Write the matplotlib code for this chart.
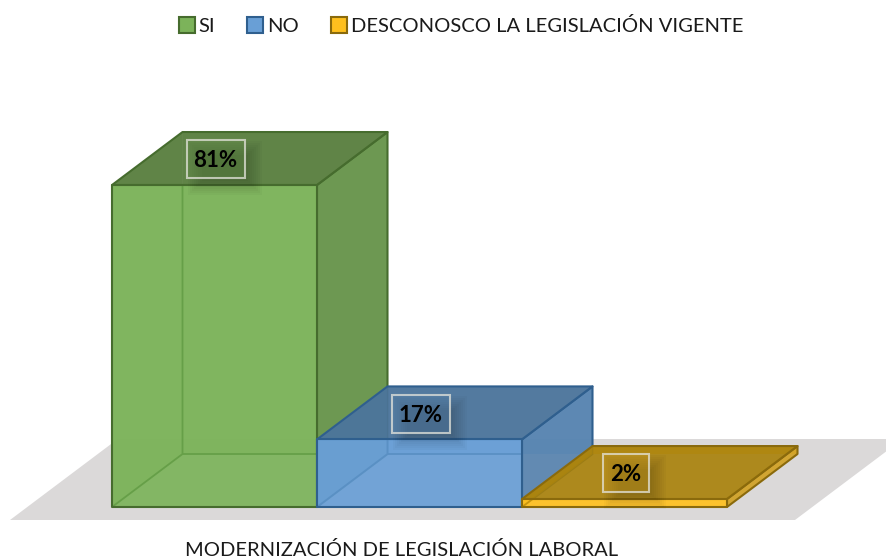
#!/usr/bin/env python3
"""Barras 3D: modernizacion de legislacion laboral."""
import matplotlib
matplotlib.use("Agg")
import matplotlib.pyplot as plt
from matplotlib.patches import Polygon, Rectangle

plt.rcParams['font.family'] = ['Lato', 'DejaVu Sans']

categories = ['SI', 'NO', 'DESCONOSCO LA LEGISLACIÓN VIGENTE']
values = [81, 17, 2]
labels = ['81%', '17%', '2%']
xlabel = 'MODERNIZACIÓN DE LEGISLACIÓN LABORAL'

front_cols = ['#7CB35A', '#699FD6', '#FFC01E']
top_cols = ['#587C3E', '#4A7298', '#A88008']
side_cols = ['#66924A', '#5582AE', '#D0A020']
line_cols = ['#669F48', '#5A90C4', '#C8960F']
edge_cols = ['#466C2E', '#2F5F8E', '#8A6A0C']

W, H = 887, 560
PX_X = 205.0      # px por categoria
PX_Y = 3.975      # px por punto porcentual
X0, Y0 = 112, 507 # origen del eje en px
DX = 70.5 / PX_X  # profundidad oblicua
DY = 53 / PX_Y

fig = plt.figure(figsize=(W / 100, H / 100), dpi=100)
ax = fig.add_axes([0, 0, 1, 1])
ax.set_xlim(-X0 / PX_X, (W - X0) / PX_X)
ax.set_ylim(-(H - Y0) / PX_Y, Y0 / PX_Y)
ax.axis('off')

# suelo gris
fy0, fy1 = -13 / PX_Y, 68 / PX_Y
fl, fr = (10 - X0) / PX_X, (795 - X0) / PX_X
shift = DX * (fy1 - fy0) / DY
ax.add_patch(Polygon([(fl, fy0), (fr, fy0), (fr + shift, fy1), (fl + shift, fy1)],
                     fc='#DBD9D9', ec='none', zorder=1))


def face(pts, col, edge, alpha, z):
    ax.add_patch(Polygon(pts, fc=col, ec='none', alpha=alpha, zorder=z))
    ax.add_patch(Polygon(pts, fc='none', ec=edge, lw=1.5, zorder=z + 0.05, joinstyle='round'))


for i, v in enumerate(values):
    l, r = i, i + 1
    z = 2 + i
    # caras ocultas, se ven a traves del frente
    ax.add_patch(Polygon([(l + DX, DY), (r + DX, DY), (r + DX, v + DY), (l + DX, v + DY)],
                         fc=front_cols[i], ec='none', alpha=0.6, zorder=z))
    ax.add_patch(Polygon([(l, 0), (l + DX, DY), (l + DX, v + DY), (l, v)],
                         fc=front_cols[i], ec='none', alpha=0.6, zorder=z))
    face([(r, 0), (r + DX, DY), (r + DX, v + DY), (r, v)], side_cols[i], edge_cols[i], 0.9, z + 0.1)
    face([(l, v), (r, v), (r + DX, v + DY), (l + DX, v + DY)], top_cols[i], edge_cols[i], 0.9, z + 0.2)
    face([(l, 0), (r, 0), (r, v), (l, v)], front_cols[i], edge_cols[i], 0.92, z + 0.3)
    # aristas ocultas, solo dentro del frente
    clip = Rectangle((l, 0), 1, v, transform=ax.transData)
    for xs, ys in [([l, l + DX, l + DX], [0, DY, v + DY]), ([l + DX, r + DX], [DY, DY])]:
        line, = ax.plot(xs, ys, color=line_cols[i], lw=1.3, zorder=z + 0.32)
        line.set_clip_path(clip)

# etiquetas con caja y sombra
box_w = [58, 58, 46]
box_h = 38
off = 9
for i, v in enumerate(values):
    cx = i + 0.5 + 1 / PX_X
    cy = v + DY / 2 - 0.2
    bw, bh = box_w[i] / PX_X, box_h / PX_Y
    for g in range(8, -8, -2):
        ax.add_patch(Rectangle((cx - bw / 2 + (off - g) / PX_X, cy - bh / 2 - (off + g) / PX_Y),
                               bw + 2 * g / PX_X, bh + 2 * g / PX_Y,
                               fc='black', ec='none', alpha=0.025, zorder=8))
    ax.add_patch(Rectangle((cx - bw / 2, cy - bh / 2), bw, bh, fc=side_cols[i], alpha=0.3,
                           ec='none', zorder=9))
    ax.add_patch(Rectangle((cx - bw / 2, cy - bh / 2), bw, bh, fc='none', ec='#E4E4DC', lw=1.5,
                           alpha=0.75, zorder=9.1))
    ax.text(cx, cy - 0.4, labels[i], ha='center', va='center', fontsize=16, fontweight='bold',
            color='black', zorder=10)

ax.text((402 - X0) / PX_X, -(550 - Y0) / PX_Y, xlabel, ha='center', va='center', fontsize=14.5,
        color='#1A1A1A')

handles = [Rectangle((0, 0), 1, 1, fc=front_cols[i], ec=edge_cols[i], lw=1.5) for i in range(3)]
fig.legend(handles, categories, loc='center', bbox_to_anchor=(461 / W, 1 - 26 / H), ncol=3, frameon=False,
           fontsize=14.5, handlelength=0.78, handleheight=0.78, handletextpad=0.2, columnspacing=1.6,
           labelcolor='#1A1A1A')

fig.savefig('out.png', dpi=100)
